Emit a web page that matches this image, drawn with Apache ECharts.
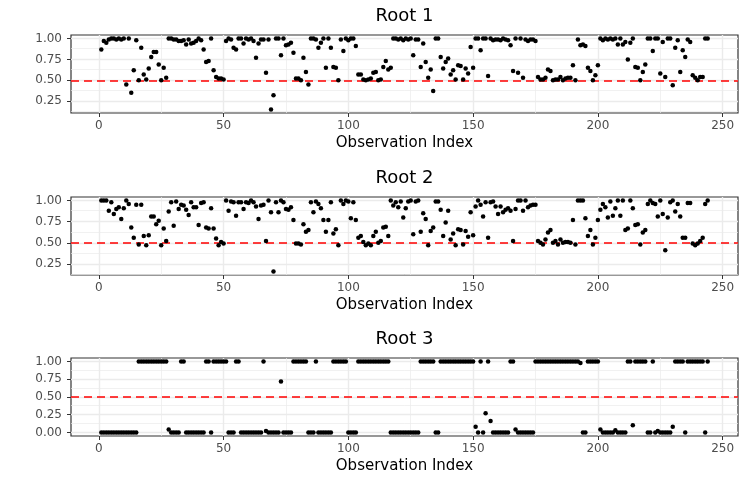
<!DOCTYPE html>
<html>
<head>
<meta charset="utf-8">
<script src="https://cdn.jsdelivr.net/npm/echarts@6/dist/echarts.min.js"></script>
<style>
html, body { margin: 0; padding: 0; background: #fff; }
#chart { width: 747px; height: 485px; }
</style>
</head>
<body>
<div id="chart"></div>
<script>
// values, observation 1..244
var root1 = [
	0.87, 0.97, 0.95, 0.99, 1.00, 1.00, 0.99, 1.00, 0.99, 1.00,
	0.45, 1.00, 0.35, 0.62, 0.98, 0.50, 0.89, 0.57, 0.51, 0.64,
	0.78, 0.84, 0.84, 0.69, 0.50, 0.65, 0.53, 1.00, 1.00, 0.99,
	0.99, 0.97, 0.97, 0.98, 0.93, 0.99, 0.94, 0.95, 0.97, 1.00,
	0.98, 0.87, 0.72, 0.73, 1.00, 0.62, 0.54, 0.52, 0.52, 0.51,
	0.97, 1.00, 0.99, 0.89, 0.87, 1.00, 1.00, 0.94, 1.00, 0.99,
	1.00, 0.97, 0.77, 0.94, 0.99, 0.99, 0.59, 0.99, 0.15, 0.32,
	1.00, 1.00, 0.80, 1.00, 0.92, 0.93, 0.95, 0.83, 0.52, 0.52,
	0.50, 0.77, 0.60, 0.45, 1.00, 1.00, 0.99, 0.89, 0.95, 1.00,
	0.65, 1.00, 0.89, 0.66, 0.65, 0.50, 0.99, 0.85, 1.00, 0.98,
	1.00, 1.00, 0.91, 0.57, 0.57, 0.51, 0.50, 0.51, 0.52, 0.59,
	0.60, 0.50, 0.51, 0.66, 0.73, 0.63, 0.65, 1.00, 1.00, 0.99,
	1.00, 0.98, 1.00, 0.99, 1.00, 0.80, 0.99, 0.99, 0.66, 0.94,
	0.72, 0.53, 0.63, 0.37, 1.00, 1.00, 0.78, 0.64, 0.72, 0.76,
	0.57, 0.62, 0.51, 0.68, 0.67, 0.51, 0.64, 0.58, 0.90, 0.65,
	1.00, 1.00, 0.86, 1.00, 1.00, 0.55, 1.00, 0.98, 0.99, 0.99,
	0.98, 1.00, 0.99, 0.98, 0.92, 0.61, 1.00, 0.59, 1.00, 0.53,
	0.99, 0.97, 0.99, 0.99, 0.97, 0.54, 0.51, 0.51, 0.53, 0.63,
	0.61, 0.50, 0.51, 0.51, 0.54, 0.50, 0.52, 0.53, 0.53, 0.68,
	0.50, 0.99, 0.92, 0.93, 0.91, 0.65, 0.61, 0.50, 0.56, 0.68,
	1.00, 0.98, 1.00, 0.99, 1.00, 0.99, 1.00, 0.93, 1.00, 0.93,
	0.96, 0.75, 0.95, 1.00, 0.66, 0.65, 0.50, 0.60, 0.69, 1.00,
	1.00, 0.85, 1.00, 1.00, 0.58, 0.96, 0.54, 1.00, 1.00, 0.44,
	0.89, 0.98, 0.60, 0.86, 0.78, 0.99, 0.96, 0.56, 0.53, 0.50,
	0.54, 0.54, 1.00, 1.00
];

var root2 = [
	1.00, 1.00, 1.00, 0.88, 0.98, 0.84, 0.90, 0.92, 0.78, 0.91,
	1.00, 0.96, 0.68, 0.56, 0.95, 0.48, 0.95, 0.58, 0.47, 0.59,
	0.81, 0.81, 0.72, 0.76, 0.47, 0.67, 0.52, 0.87, 0.98, 0.70,
	0.99, 0.90, 0.95, 0.94, 0.89, 0.83, 0.98, 0.92, 0.92, 0.71,
	0.97, 0.98, 0.68, 0.67, 0.91, 0.67, 0.55, 0.47, 0.51, 0.49,
	1.00, 0.88, 0.99, 0.98, 0.82, 0.98, 0.98, 0.90, 0.98, 0.97,
	1.00, 0.98, 0.93, 0.78, 0.94, 0.95, 0.52, 1.00, 0.86, 0.16,
	0.98, 0.86, 1.00, 0.98, 0.90, 0.89, 0.92, 0.77, 0.49, 0.49,
	0.48, 0.72, 0.63, 0.65, 0.98, 0.86, 0.99, 0.96, 0.91, 0.77,
	0.63, 0.77, 0.98, 0.61, 0.66, 0.47, 1.00, 0.96, 1.00, 0.99,
	0.79, 0.98, 0.77, 0.56, 0.58, 0.51, 0.47, 0.49, 0.47, 0.58,
	0.63, 0.50, 0.52, 0.68, 0.69, 0.58, 1.00, 0.94, 0.98, 0.92,
	0.99, 0.80, 0.91, 0.99, 1.00, 0.60, 0.99, 1.00, 0.63, 0.85,
	0.78, 0.47, 0.64, 0.68, 0.99, 0.99, 0.89, 0.58, 0.74, 0.88,
	0.54, 0.61, 0.47, 0.66, 0.65, 0.48, 0.64, 0.57, 0.86, 0.59,
	0.93, 1.00, 0.95, 0.81, 0.98, 0.56, 0.98, 0.99, 0.93, 0.84,
	0.93, 0.86, 0.89, 0.91, 0.88, 0.52, 0.90, 1.00, 1.00, 0.88,
	1.00, 0.92, 0.94, 0.95, 0.95, 0.52, 0.50, 0.48, 0.54, 0.62,
	0.65, 0.50, 0.52, 0.48, 0.54, 0.50, 0.51, 0.51, 0.50, 0.77,
	0.48, 1.00, 1.00, 1.00, 0.79, 0.58, 0.65, 0.48, 0.56, 0.77,
	0.89, 0.96, 0.92, 0.80, 0.99, 0.82, 0.91, 1.00, 0.82, 1.00,
	0.65, 0.67, 1.00, 0.91, 0.71, 0.72, 0.48, 0.62, 0.65, 0.96,
	1.00, 0.97, 0.96, 0.81, 1.00, 0.84, 0.41, 0.80, 0.98, 1.00,
	0.87, 0.96, 0.81, 0.56, 0.56, 0.97, 0.97, 0.49, 0.47, 0.49,
	0.52, 0.56, 0.96, 1.00
];

var root3 = [
	0, 0, 0, 0, 0, 0, 0, 0, 0, 0,
	0, 0, 0, 0, 0, 1, 1, 1, 1, 1,
	1, 1, 1, 1, 1, 1, 1, 0.04, 0, 0,
	0, 0, 1, 1, 0, 0, 0, 0, 0, 0,
	0, 0, 1, 1, 0, 1, 1, 1, 1, 1,
	1, 0, 0, 0, 1, 1, 0, 0, 0, 0,
	0, 0, 0, 0, 0, 1, 0.02, 0, 0, 0,
	0, 0, 0.72, 0, 0, 0, 0, 1, 1, 1,
	1, 1, 1, 0, 0, 0, 1, 0, 0, 0,
	0, 0, 0, 1, 1, 1, 1, 1, 1, 0,
	0, 0, 0, 1, 1, 1, 1, 1, 1, 1,
	1, 1, 1, 1, 1, 1, 0, 0, 0, 0,
	0, 0, 0, 0, 0, 0, 0, 0, 1, 1,
	1, 1, 1, 1, 0, 0, 1, 1, 1, 1,
	1, 1, 1, 1, 1, 1, 1, 1, 1, 1,
	0.08, 0, 1, 0, 0.27, 1, 0.16, 0, 0, 0,
	0, 0, 0, 0, 1, 1, 0.04, 0, 0, 0,
	0, 0, 0, 0, 1, 1, 1, 1, 1, 1,
	1, 1, 1, 1, 1, 1, 1, 1, 1, 1,
	1, 1, 0.98, 0, 0, 1, 1, 1, 1, 1,
	0.04, 0, 0, 0, 0, 0, 0.03, 0, 0, 0,
	0, 1, 1, 0.1, 1, 1, 1, 1, 1, 0,
	0, 1, 0, 0.02, 0, 0, 0, 0, 0, 0.08,
	1, 1, 1, 1, 0, 1, 1, 1, 1, 1,
	1, 1, 0, 1
];

var panelTitles = ['Root 1', 'Root 2', 'Root 3'];
var xTicks = [0, 50, 100, 150, 200, 250];
var xMinorTicks = [25, 75, 125, 175, 225];
var yTicks = [0, 0.25, 0.5, 0.75, 1];
var yMinorTicks = [0.125, 0.375, 0.625, 0.875];
var cutoff = 0.5;

var panels = [root1, root2, root3];
var panelTops = [35, 197, 358];
var titleTops = [7, 169, 330];
var panelHeight = 78;
var plotLeft = 71, plotRight = 9;
var font = 'DejaVu Sans';

// ggplot style 5% expansion of the data range
function expand(lo, hi) {
	var pad = (hi - lo) * 0.05;
	return [lo - pad, hi + pad];
}

function inside(values, range) {
	return values.filter(function (v) { return v >= range[0] && v <= range[1]; });
}

var chart = echarts.init(document.getElementById('chart'), null, { renderer: 'canvas' });

var option = {
	backgroundColor: '#fff',
	animation: false,
	title: [],
	grid: [],
	xAxis: [],
	yAxis: [],
	series: []
};

panels.forEach(function (vals, i) {
	var n = vals.length;
	var xRange = expand(1, n);
	var yRange = expand(Math.min.apply(null, vals), Math.max.apply(null, vals));
	var yT = inside(yTicks, yRange);
	var yM = inside(yMinorTicks, yRange);

	option.title.push({
		text: panelTitles[i],
		left: plotLeft + (747 - plotLeft - plotRight) / 2,
		top: titleTops[i],
		textAlign: 'center',
		padding: 0,
		textStyle: { color: '#000', fontSize: 18, fontWeight: 'normal', fontFamily: font }
	});

	option.grid.push({
		left: plotLeft,
		right: plotRight,
		top: panelTops[i],
		height: panelHeight,
		show: true,
		backgroundColor: '#fff',
		borderColor: '#333',
		borderWidth: 1.2
	});

	option.xAxis.push({
		type: 'value',
		gridIndex: i,
		min: xRange[0],
		max: xRange[1],
		name: 'Observation Index',
		nameLocation: 'middle',
		nameGap: 23,
		nameTextStyle: { color: '#000', fontSize: 15, fontFamily: font },
		axisLine: { show: false, onZero: false },
		axisTick: { show: true, customValues: xTicks, length: 4, lineStyle: { color: '#333' } },
		axisLabel: { customValues: xTicks, margin: 7, color: '#4d4d4d', fontSize: 12, fontFamily: font },
		splitLine: { show: false }
	});

	option.yAxis.push({
		type: 'value',
		gridIndex: i,
		min: yRange[0],
		max: yRange[1],
		axisLine: { show: false, onZero: false },
		axisTick: { show: true, customValues: yT, length: 4, lineStyle: { color: '#333' } },
		axisLabel: {
			customValues: yT, margin: 9, color: '#4d4d4d', fontSize: 12, fontFamily: font,
			formatter: function (v) { return v.toFixed(2); }
		},
		splitLine: { show: false }
	});

	var gridLines = [];
	xMinorTicks.forEach(function (v) { gridLines.push({ xAxis: v, lineStyle: { width: 0.7 } }); });
	yM.forEach(function (v) { gridLines.push({ yAxis: v, lineStyle: { width: 0.7 } }); });
	xTicks.forEach(function (v) { gridLines.push({ xAxis: v, lineStyle: { width: 1.4 } }); });
	yT.forEach(function (v) { gridLines.push({ yAxis: v, lineStyle: { width: 1.4 } }); });

	// background grid lines
	option.series.push({
		type: 'line',
		xAxisIndex: i,
		yAxisIndex: i,
		data: [],
		markLine: {
			silent: true,
			z: 1,
			symbol: ['none', 'none'],
			label: { show: false },
			lineStyle: { color: '#ebebeb', type: 'solid' },
			data: gridLines
		}
	});

	var pts = vals.map(function (v, k) { return [k + 1, v]; });
	option.series.push({
		type: 'scatter',
		xAxisIndex: i,
		yAxisIndex: i,
		data: pts,
		symbolSize: 4.5,
		z: 3,
		itemStyle: { color: '#000', opacity: 1 },
		markLine: {
			silent: true,
			z: 2,
			symbol: ['none', 'none'],
			label: { show: false },
			lineStyle: { color: '#ff0000', type: [8, 5], width: 1.6 },
			data: [{ yAxis: cutoff }]
		}
	});
});

chart.setOption(option);
</script>
</body>
</html>
